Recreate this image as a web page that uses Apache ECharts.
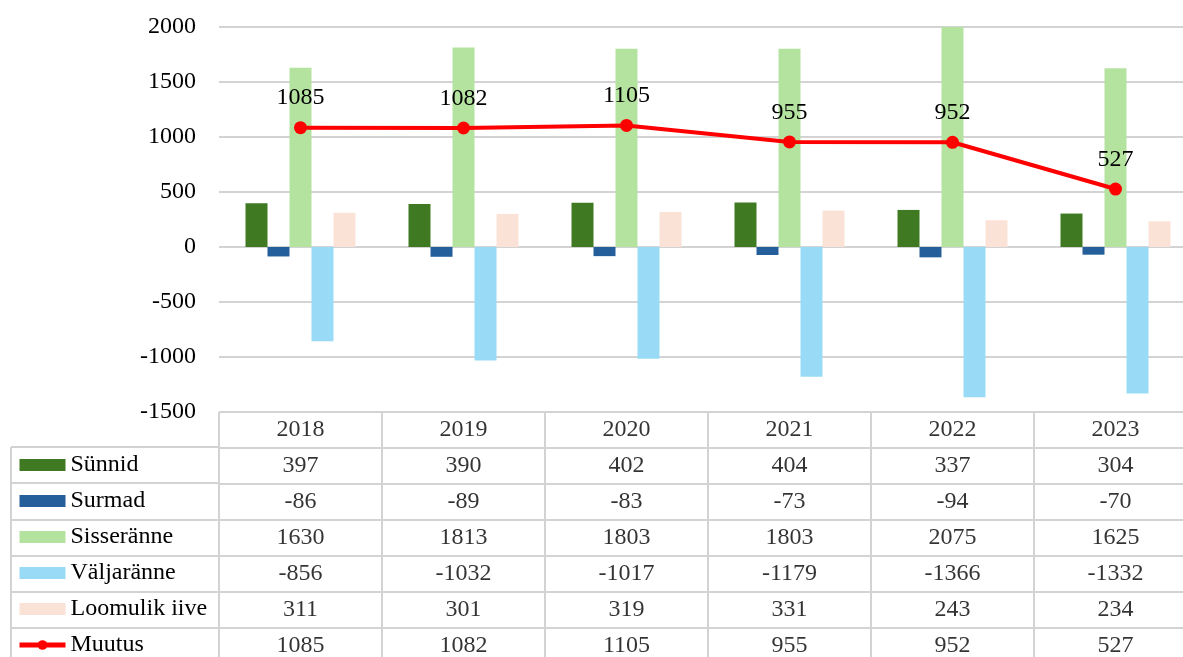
<!DOCTYPE html>
<html lang="et">
<head>
    <meta charset="UTF-8">
    <title>rahvastiku muutus</title>
    <script src="https://cdn.jsdelivr.net/npm/echarts@6/dist/echarts.min.js"></script>
    <style>
        html,body{margin:0;padding:0;background:#fff}
        #chart{width:1183px;height:657px}
    </style>
</head>
<body>
    <div id="chart"></div>
    <script>
        // andmed
        var years = ['2018', '2019', '2020', '2021', '2022', '2023'];
        var sunnid = [397, 390, 402, 404, 337, 304];
        var surmad = [-86, -89, -83, -73, -94, -70];
        var sisseranne = [1630, 1813, 1803, 1803, 2075, 1625];
        var valjaranne = [-856, -1032, -1017, -1179, -1366, -1332];
        var loomulik = [311, 301, 319, 331, 243, 234];
        var muutus = [1085, 1082, 1105, 955, 952, 527];
        var names = ['Sünnid', 'Surmad', 'Sisseränne', 'Väljaränne', 'Loomulik iive', 'Muutus'];
        var colors = ['#3f7a22', '#245f9b', '#b4e3a0', '#99dbf6', '#fbe2d6', '#ff0000'];

        var font = "'Liberation Serif', 'Times New Roman', serif";
        var lineColor = '#d3d3d3';

        // tabeli lahtrid: päis + 6 rida
        var rows = [sunnid, surmad, sisseranne, valjaranne, loomulik, muutus];
        var cells = [];
        for (var c = 0; c < years.length; c++) {
            cells.push([c, 0, years[c]]);
            for (var r = 0; r < rows.length; r++) {
                cells.push([c, r + 1, rows[r][c]]);
            }
        }

        var mychart = echarts.init(document.getElementById('chart'));
        var barSeries = [sunnid, surmad, sisseranne, valjaranne, loomulik].map(function (d, i) {
            return {
                name: names[i],
                type: 'bar',
                xAxisIndex: 0,
                yAxisIndex: 0,
                barWidth: 22,
                barGap: '0%',
                itemStyle: {color: colors[i]},
                data: d
            };
        });

        var option = {
            animation: false,
            textStyle: {fontFamily: font},
            grid: [
                {left: 219, top: 27, right: -14, height: 385, outerBoundsMode: 'none'},
                {left: 219, top: 412, right: -14, bottom: -7, outerBoundsMode: 'none'},
                {left: 11, top: 447, width: 208, bottom: -7, outerBoundsMode: 'none'}
            ],
            legend: {
                orient: 'vertical',
                left: 17,
                top: 453,
                padding: 0,
                itemGap: 12,
                itemWidth: 46,
                itemHeight: 12,
                textStyle: {fontFamily: font, fontSize: 24, color: '#000', lineHeight: 24},
                data: [
                    {name: names[0], icon: 'rect'},
                    {name: names[1], icon: 'rect'},
                    {name: names[2], icon: 'rect'},
                    {name: names[3], icon: 'rect'},
                    {name: names[4], icon: 'rect'},
                    {name: names[5], lineStyle: {width: 5, color: colors[5]}}
                ]
            },
            xAxis: [
                {gridIndex: 0, type: 'category', data: years, show: false},
                {
                    gridIndex: 1, type: 'category', data: years,
                    axisLine: {show: false}, axisTick: {show: false}, axisLabel: {show: false},
                    splitLine: {show: true, interval: 0, lineStyle: {color: lineColor, width: 2}}
                },
                {
                    gridIndex: 2, type: 'category', data: [''],
                    axisLine: {show: false}, axisTick: {show: false}, axisLabel: {show: false},
                    splitLine: {show: true, interval: 0, lineStyle: {color: lineColor, width: 2}}
                }
            ],
            yAxis: [
                {
                    gridIndex: 0, type: 'value', min: -1500, max: 2000, interval: 500,
                    axisLine: {show: false}, axisTick: {show: false},
                    axisLabel: {
                        fontFamily: font, fontSize: 24, color: '#000', margin: 23,
                        formatter: function (v) { return String(v); }
                    },
                    splitLine: {lineStyle: {color: lineColor, width: 2}}
                },
                {
                    gridIndex: 1, type: 'category', inverse: true,
                    data: ['', names[0], names[1], names[2], names[3], names[4], names[5]],
                    axisLine: {show: false}, axisTick: {show: false}, axisLabel: {show: false},
                    splitLine: {show: true, interval: 0, lineStyle: {color: lineColor, width: 2}}
                },
                {
                    gridIndex: 2, type: 'category', inverse: true, data: names,
                    axisLine: {show: false}, axisTick: {show: false}, axisLabel: {show: false},
                    splitLine: {show: true, interval: 0, lineStyle: {color: lineColor, width: 2}}
                }
            ],
            series: barSeries.concat([
                {
                    name: 'Muutus',
                    type: 'line',
                    xAxisIndex: 0,
                    yAxisIndex: 0,
                    z: 5,
                    symbol: 'circle',
                    symbolSize: 13,
                    lineStyle: {color: colors[5], width: 4},
                    itemStyle: {color: colors[5]},
                    label: {show: true, position: 'top', distance: 11, fontFamily: font, fontSize: 24, color: '#000'},
                    data: muutus
                },
                {
                    name: 'tabel',
                    type: 'scatter',
                    xAxisIndex: 1,
                    yAxisIndex: 1,
                    symbolSize: 0,
                    silent: true,
                    label: {
                        show: true, position: 'inside', fontFamily: font, fontSize: 24, color: '#000',
                        formatter: function (p) { return p.value[2]; }
                    },
                    data: cells
                }
            ])
        };
        mychart.setOption(option);
    </script>
</body>
</html>
